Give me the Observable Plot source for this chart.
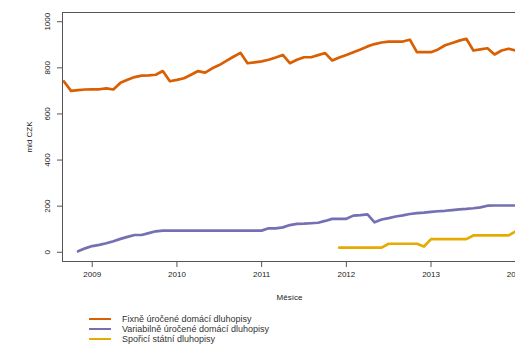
<!DOCTYPE html>
<html><head><meta charset="utf-8">
<script src="https://cdn.jsdelivr.net/npm/d3@7"></script>
<script src="https://cdn.jsdelivr.net/npm/@observablehq/plot@0.6"></script>
<style>
html,body{margin:0;padding:0;overflow:hidden;background:#fff;width:515px;height:347px}
#wrap{position:relative;width:515px;height:347px;overflow:hidden;font-family:"Liberation Sans",Arial,sans-serif}
#legend{position:absolute;left:0;top:0;width:515px;height:347px;pointer-events:none}
.row{position:absolute;left:89px;height:10px;display:flex;align-items:center;font-size:9px;color:#333;white-space:nowrap}
.sw{width:22px;height:2.5px;margin-right:11px}
</style>
</head><body><div id="wrap"><div id="chart"></div><div id="legend"></div></div>
<script>
// Months are counted from Sep 2008 (index 0)
const startYear = 2008, startMonth = 8;
const seriesNames = ["Fixně úročené domácí dluhopisy", "Variabilně úročené domácí dluhopisy", "Spořicí státní dluhopisy"];
const seriesColors = ["#D95F02", "#7570B3", "#E6AB02"];
// Fixed-rate domestic bonds, from month index 0
const fixedStart = 0;
const fixedValues = [741,700,703,706,707,707,711,706,735,748,760,766,767,770,786,742,748,755,770,786,779,798,812,830,848,865,820,824,828,835,845,856,820,835,846,846,855,864,832,845,856,868,880,893,903,910,914,914,914,922,868,868,868,880,898,908,918,926,875,880,885,858,875,883,875];
// Variable-rate domestic bonds, from month index 2
const variableStart = 2;
const variableValues = [4,17,27,32,39,48,58,67,75,75,83,91,94,94,94,94,94,94,94,94,94,94,94,94,94,94,94,104,104,108,118,123,124,126,128,136,145,145,145,159,161,164,130,142,148,155,160,166,170,172,175,178,180,183,186,188,191,195,202,203,203,203,203];
// Savings government bonds, from month index 39
const savingsStart = 39;
const savingsValues = [20,20,20,20,20,20,20,37,37,37,37,37,25,57,57,57,57,57,57,73,73,73,73,73,73,91];
const xTicks = [2009, 2010, 2011, 2012, 2013, 2014];
const yTicks = [0, 200, 400, 600, 800, 1000];

function toRows(name, start, values) {
  return values.map((v, i) => ({series: name, t: startYear + (startMonth + start + i) / 12, value: v}));
}
const data = [
  ...toRows(seriesNames[0], fixedStart, fixedValues),
  ...toRows(seriesNames[1], variableStart, variableValues),
  ...toRows(seriesNames[2], savingsStart, savingsValues)
];

const chart = Plot.plot({
  width: 530, height: 305,
  marginLeft: 62, marginRight: 14, marginTop: 12, marginBottom: 44,
  style: {fontFamily: "Liberation Sans, Arial, sans-serif", fontSize: "8px", color: "#222", maxWidth: "none", overflow: "visible", background: "#fff"},
  x: {domain: [2008.649, 2014.009]},
  y: {domain: [-40, 1040]},
  color: {domain: seriesNames, range: seriesColors},
  marks: [
    Plot.frame({stroke: "#555", strokeWidth: 1}),
    Plot.axisX({ticks: xTicks, tickFormat: d => String(d), tickSize: 6, tickPadding: 4, stroke: "#555", fill: "#222", label: "Měsíce", labelAnchor: "center", labelOffset: 38, labelArrow: "none"}),
    Plot.axisY({ticks: yTicks, tickFormat: () => "", tickSize: 5, tickPadding: 0, stroke: "#555", label: "mld CZK", labelAnchor: "center", labelOffset: 36, labelArrow: "none"}),
    Plot.text(yTicks, {y: d => d, text: d => String(d), frameAnchor: "left", dx: -15, rotate: -90, textAnchor: "middle", fill: "#222", fontSize: 8}),
    Plot.line(data, {x: "t", y: "value", z: "series", stroke: "series", strokeWidth: 2.7, curve: "linear"})
  ]
});
document.getElementById("chart").appendChild(chart);

const legend = document.getElementById("legend");
const rowTops = [314, 324, 334];
seriesNames.forEach((name, i) => {
  const row = document.createElement("div");
  row.className = "row";
  row.style.top = rowTops[i] + "px";
  const sw = document.createElement("span");
  sw.className = "sw";
  sw.style.background = seriesColors[i];
  const tx = document.createElement("span");
  tx.textContent = name;
  row.appendChild(sw); row.appendChild(tx);
  legend.appendChild(row);
});
</script>
</body></html>
